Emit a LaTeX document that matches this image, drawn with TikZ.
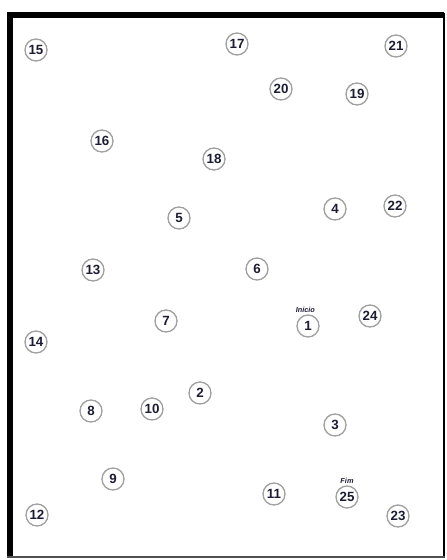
\documentclass[tikz,border=0pt]{standalone}
\usepackage{fontspec}
\setmainfont{Liberation Sans}
\usetikzlibrary{positioning}
\definecolor{ptgray}{HTML}{A0A0A0}
\definecolor{ptnavy}{HTML}{1C1C33}
\definecolor{framegray}{HTML}{505050}

\begin{document}
\begin{tikzpicture}[
    x=0.75pt, y=-0.75pt,
    pt/.style={circle, draw=ptgray, line width=1pt, fill=white, inner sep=0pt,
               minimum size=16.5pt, font=\fontsize{10}{10}\selectfont\bfseries, text=ptnavy},
    tag/.style={inner sep=0.5pt, font=\fontsize{5.5}{5.5}\selectfont\bfseries\itshape, text=ptnavy},
]
    \useasboundingbox (0,0) rectangle (446,560);
    % frame
    \draw[line width=4.5pt] (10,557) -- (10,15) -- (444,15);
    \draw[line width=1.5pt] (444,13) -- (444,557);
    \draw[line width=1.5pt, framegray] (7,557) -- (445,557);

    % points
    \node[pt] (n15) at (36,50) {15};
    \node[pt] (n17) at (237,44) {17};
    \node[pt] (n21) at (396,46) {21};
    \node[pt] (n20) at (281,89) {20};
    \node[pt] (n19) at (357,94) {19};
    \node[pt] (n16) at (102,141) {16};
    \node[pt] (n18) at (214,159) {18};
    \node[pt] (n5) at (179,218) {5};
    \node[pt] (n4) at (335,209) {4};
    \node[pt] (n22) at (395,206) {22};
    \node[pt] (n13) at (93,270) {13};
    \node[pt] (n6) at (257,269) {6};
    \node[pt] (n7) at (166,321) {7};
    \node[pt] (n1) at (308,326) {1};
    \node[pt] (n24) at (370,316) {24};
    \node[pt] (n14) at (36,342) {14};
    \node[pt] (n2) at (200,393) {2};
    \node[pt] (n10) at (152,409) {10};
    \node[pt] (n8) at (91,411) {8};
    \node[pt] (n3) at (335,425) {3};
    \node[pt] (n9) at (113,479) {9};
    \node[pt] (n25) at (347,497) {25};
    \node[pt] (n11) at (274,494) {11};
    \node[pt] (n12) at (37,515) {12};
    \node[pt] (n23) at (398,516) {23};

    % start / end
    \node[tag, above=0.5pt of n1, xshift=-2pt] (inicio) {Inicio};
    \node[tag, above=0.5pt of n25] (fim) {Fim};
\end{tikzpicture}
\end{document}
